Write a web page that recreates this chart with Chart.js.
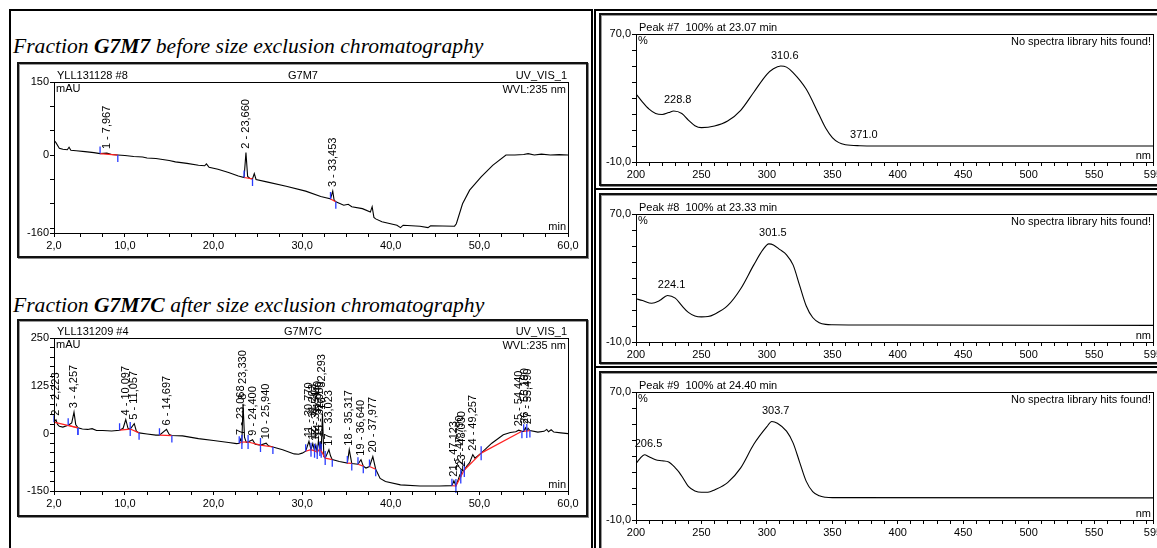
<!DOCTYPE html>
<html>
<head>
<meta charset="utf-8">
<script src="https://cdn.jsdelivr.net/npm/chart.js@4/dist/chart.umd.min.js"></script>
<style>
  body { margin:0; width:1157px; height:548px; overflow:hidden; background:#fff; position:relative;
         font-family:"Liberation Sans", Arial, sans-serif; }
  .frame { position:absolute; border:2px solid #000; box-sizing:border-box; }
  .box { position:absolute; border:2px solid #111; box-sizing:border-box;
         box-shadow: inset 1px 1px 0 #999, 1px 1px 0 #888; }
  .title { position:absolute; left:13px; font-family:"Liberation Serif","Times New Roman",serif;
           font-style:italic; font-size:21.6px; white-space:nowrap; color:#000; }
  canvas { position:absolute; }
</style>
</head>
<body>
<div class="frame" style="left:9px;top:9px;width:584px;height:560px"></div>
<div class="frame" style="left:594px;top:9px;width:600px;height:181px"></div>
<div class="frame" style="left:594px;top:188px;width:600px;height:180px"></div>
<div class="frame" style="left:594px;top:366px;width:600px;height:200px"></div>

<div class="title" style="top:34px">Fraction <b>G7M7</b> before size exclusion chromatography</div>
<div class="title" style="top:293px">Fraction <b>G7M7C</b> after size exclusion chromatography</div>

<div class="box" style="left:17px;top:62px;width:571px;height:196px"></div>
<canvas id="chrom1" width="567" height="192" style="left:19px;top:64px"></canvas>
<div class="box" style="left:17px;top:319px;width:571px;height:198px"></div>
<canvas id="chrom2" width="567" height="194" style="left:19px;top:321px"></canvas>

<div class="box" style="left:599px;top:13px;width:600px;height:173px"></div>
<canvas id="spec1" width="590" height="169" style="left:601px;top:15px"></canvas>
<div class="box" style="left:599px;top:193px;width:600px;height:171px"></div>
<canvas id="spec2" width="590" height="169" style="left:601px;top:195px"></canvas>
<div class="box" style="left:599px;top:371px;width:600px;height:190px"></div>
<canvas id="spec3" width="590" height="169" style="left:601px;top:373px"></canvas>

<script>
// ---- chromatogram G7M7 (min, mAU) ----
const chrom1Time = [2.0, 2.2, 2.6, 3.0, 3.5, 3.7, 3.9, 4.5, 5.5, 6.5, 7.2, 7.967, 8.5, 9.2, 10.0, 11.0, 12.0, 12.5,
  13.5, 15.0, 15.7, 17.0, 18.3, 19.0, 19.2, 19.5, 20.5, 21.7, 22.8, 23.45, 23.66, 23.85, 24.1, 24.4, 24.6, 24.8,
  26.0, 28.2, 30.4, 32.1, 32.8, 33.2, 33.453, 33.6, 33.8, 34.7, 35.2, 35.6, 36.8, 37.7, 37.9, 38.1, 38.3, 39.0,
  40.7, 41.1, 41.4, 43.3, 44.2, 44.5, 47.2, 47.4, 48.1, 48.9, 50.2, 51.5, 53.0, 54.0, 55.0, 55.5, 56.2, 57.0,
  58.0, 59.0, 60.0];
const chrom1Signal = [30, 26, 14, 12, 11, 16, 10, 9, 7, 5, 3, 4, 1, 0, -1, -3, -4, -6,
  -7, -11, -14, -17, -21, -22, -18, -25, -29, -36, -43, -46, 5, -44, -48, -49, -38, -50,
  -55, -64, -74, -85, -88, -90, -74, -92, -96, -103, -101, -106, -110, -117, -106, -128, -131, -137,
  -144, -149, -144, -146, -149, -145, -146, -141, -100, -72, -45, -21, 0, 0, 1, 3, 0, 2,
  0, 1, 0];
// peak no., retention time, start, end
const chrom1Peaks = [[1, 7.967, 7.2, 9.2], [2, 23.660, 23.45, 24.4], [3, 33.453, 33.2, 33.8]];

// ---- chromatogram G7M7C (min, mAU) ----
const chrom2Time = [2.0, 2.223, 2.4, 2.6, 3.0, 3.6, 4.0, 4.257, 4.45, 4.7, 5.2, 5.8, 6.3, 6.8, 7.5, 8.5, 9.4, 9.8,
  10.097, 10.35, 10.6, 11.057, 11.3, 11.6, 12.5, 13.5, 13.9, 14.697, 15.0, 15.3, 16.5, 18.3, 20.0, 21.7, 22.6,
  22.9, 23.068, 23.2, 23.33, 23.5, 23.7, 23.9, 24.4, 24.7, 25.3, 25.94, 26.2, 26.7, 27.8, 29.1, 29.6, 30.0,
  30.4, 30.77, 31.0, 31.203, 31.4, 31.547, 31.7, 31.84, 32.0, 32.06, 32.15, 32.293, 32.45, 32.6, 33.023, 33.2,
  33.4, 34.2, 35.1, 35.317, 35.6, 36.3, 36.64, 36.9, 37.2, 37.6, 37.977, 38.3, 38.8, 39.4, 41.1, 43.3, 45.5,
  46.9, 47.123, 47.35, 47.6, 47.79, 47.9, 48.03, 48.3, 48.6, 48.9, 49.257, 49.5, 50.2, 51.4, 52.7, 53.5,
  54.1, 54.44, 54.8, 55.0, 55.19, 55.35, 55.49, 55.7, 56.6, 57.3, 57.6, 57.8, 58.1, 58.4, 59.2, 60.0];
const chrom2Signal = [30, 36, 24, 19, 17, 22, 28, 56, 24, 15, 12, 11, 13, 8, 8, 7, 9, 14,
  37, 14, 12, 26, 6, 2, -1, -4, -4, 11, -2, -5, -6, -13, -18, -23, -26,
  -25, -14, -22, 78, -10, -23, -22, -16, -28, -30, -25, -32, -35, -42, -53, -54, -51,
  -46, -20, -42, -26, -45, -30, -48, -18, -40, -20, -45, 52, -60, -64, -42, -58,
  -68, -73, -77, -42, -78, -80, -68, -85, -90, -86, -60, -93, -117, -125, -134, -137, -137,
  -136, -123, -137, -121, -108, -112, -97, -95, -84, -76, -55, -64, -51, -25, -3, 3,
  5, 9, 6, 6, 15, 7, 14, 8, 4, 6, 11, 5, 10, 4, 2, 0];
const chrom2Peaks = [[2, 2.223, 2.0, 4.7], [3, 4.257, 3.6, 4.7], [4, 10.097, 9.4, 10.6], [5, 11.057, 10.6, 11.6],
  [6, 14.697, 13.9, 15.3], [7, 23.068, 22.9, 23.2], [8, 23.330, 23.2, 23.9], [9, 24.400, 23.9, 25.3],
  [10, 25.940, 25.3, 26.7], [11, 30.770, 30.4, 31.0], [12, 31.203, 31.0, 31.4], [13, 31.547, 31.4, 31.7],
  [14, 31.840, 31.7, 32.0], [15, 32.060, 32.0, 32.15], [16, 32.293, 32.15, 32.6], [17, 33.023, 32.6, 33.4],
  [18, 35.317, 35.1, 35.6], [19, 36.640, 36.3, 36.9], [20, 37.977, 37.6, 38.3], [21, 47.123, 46.9, 47.35],
  [22, 47.790, 47.35, 47.9], [23, 48.030, 47.9, 48.3], [24, 49.257, 48.3, 50.2], [25, 54.440, 50.2, 54.8],
  [26, 55.190, 55.0, 55.35], [27, 55.490, 55.35, 55.7]];

// ---- UV spectra (nm, %) ----
const spec1Wl = [200, 205, 210, 215, 220, 225, 228.8, 235, 240, 245, 250, 260, 270, 280, 290, 300, 305, 310.6,
  315, 320, 330, 340, 345, 350, 355, 360, 371, 400, 595];
const spec1Abs = [32.6, 27.4, 23, 20.3, 19.7, 20.9, 21.9, 20.3, 16.2, 12.7, 11.5, 12.5, 15.6, 22.3, 33.6, 44.8,
  48.3, 50, 49.3, 45.9, 35.6, 19.3, 11.1, 5.3, 2.1, 0.8, 0.2, 0, 0];
const spec1Marks = [228.8, 310.6, 371.0];

const spec2Wl = [200, 205, 212, 218, 224.1, 230, 235, 240, 245, 250, 255, 260, 270, 280, 290, 297, 301.5, 305,
  310, 315, 320, 325, 330, 335, 340, 345, 350, 400, 595];
const spec2Abs = [17, 15.9, 14.2, 15.9, 19.1, 17.4, 12.7, 8.5, 6.3, 5.7, 5.9, 7.4, 12.7, 23.3, 38.2, 47.7, 51.3,
  50.7, 47.7, 44.5, 38.2, 25.4, 12.7, 5.3, 2.1, 1, 0.8, 0.6, 0.4];
const spec2Marks = [224.1, 301.5];

const spec3Wl = [200, 203, 206.5, 210, 215, 220, 225, 230, 233, 236, 240, 245, 250, 255, 260, 270, 280, 290, 300,
  303.7, 308, 315, 320, 325, 330, 335, 340, 345, 350, 595];
const spec3Abs = [25.3, 28.4, 30.8, 29.5, 27.7, 27, 26.2, 22.6, 19.8, 16.1, 11, 8.2, 7.3, 7.3, 8.8, 13.4, 22.6,
  37.3, 48.3, 51.6, 50.5, 45.5, 38.2, 26.2, 14.3, 7.8, 5.1, 4.2, 4, 3.8];
const spec3Marks = [206.5, 303.7];

const chromXLabels = [2, 10, 20, 30, 40, 50, 60];
const specXLabels = [200, 250, 300, 350, 400, 450, 500, 550, 595];

const FONT = '"Liberation Sans", Arial, sans-serif';
const comma = v => v.toFixed(1).replace('.', ',');

function valueAt(xs, ys, x) {
  for (let i = 1; i < xs.length; i++) {
    if (x <= xs[i]) {
      const f = (x - xs[i - 1]) / (xs[i] - xs[i - 1]);
      return ys[i - 1] + f * (ys[i] - ys[i - 1]);
    }
  }
  return ys[ys.length - 1];
}

function fixedTicks(list) {
  return scale => { scale.ticks = list.map(v => ({ value: v })); };
}

// plot frame + header/corner texts
function framePlugin(txt) {
  return {
    id: 'frame',
    afterDraw(chart) {
      const { ctx, chartArea: a } = chart;
      ctx.save();
      ctx.strokeStyle = '#000';
      ctx.lineWidth = 1;
      ctx.strokeRect(a.left + 0.5, a.top + 0.5, a.right - a.left, a.bottom - a.top);
      ctx.fillStyle = '#000';
      ctx.font = '11px ' + FONT;
      ctx.textBaseline = 'bottom';
      ctx.textAlign = 'left';
      ctx.fillText(txt.left, a.left + 3, a.top - 1);
      if (txt.center) { ctx.textAlign = 'center'; ctx.fillText(txt.center, (a.left + a.right) / 2 - 8, a.top - 1); }
      if (txt.right) { ctx.textAlign = 'right'; ctx.fillText(txt.right, a.right - 1, a.top - 1); }
      ctx.textBaseline = 'top';
      ctx.textAlign = 'left';
      ctx.fillText(txt.unit, a.left + 2, a.top + 1);
      ctx.textAlign = 'right';
      ctx.fillText(txt.info, a.right - 2, a.top + 2);
      ctx.textBaseline = 'bottom';
      ctx.fillText(txt.axis, a.right - 2, a.bottom - 1);
      ctx.restore();
    }
  };
}

// integration marks: red baseline, blue start/end ticks, rotated peak labels
function peakPlugin(times, signal, peaks) {
  return {
    id: 'peaks',
    afterDatasetsDraw(chart) {
      const { ctx } = chart;
      const xs = chart.scales.x, ys = chart.scales.y;
      ctx.save();
      peaks.forEach(([n, rt, t0, t1]) => {
        const x0 = xs.getPixelForValue(t0), x1 = xs.getPixelForValue(t1);
        const y0 = ys.getPixelForValue(valueAt(times, signal, t0));
        const y1 = ys.getPixelForValue(valueAt(times, signal, t1));
        ctx.strokeStyle = '#ff2020';
        ctx.lineWidth = 1.2;
        ctx.beginPath(); ctx.moveTo(x0, y0); ctx.lineTo(x1, y1); ctx.stroke();
        ctx.strokeStyle = '#2a3cff';
        ctx.lineWidth = 1.3;
        ctx.beginPath();
        ctx.moveTo(x0, y0); ctx.lineTo(x0, y0 - 7);
        ctx.moveTo(x1, y1); ctx.lineTo(x1, y1 + 7);
        ctx.stroke();
      });
      ctx.fillStyle = '#000';
      ctx.font = '11px ' + FONT;
      ctx.textAlign = 'left';
      ctx.textBaseline = 'middle';
      peaks.forEach(([n, rt]) => {
        const x = xs.getPixelForValue(rt);
        const y = ys.getPixelForValue(valueAt(times, signal, rt));
        ctx.save();
        ctx.translate(x, y - 4);
        ctx.rotate(-Math.PI / 2);
        ctx.fillText(n + ' - ' + rt.toFixed(3).replace('.', ','), 0, 0);
        ctx.restore();
      });
      ctx.restore();
    }
  };
}

// wavelength labels over spectrum maxima
function markPlugin(wl, abs, marks) {
  return {
    id: 'marks',
    afterDatasetsDraw(chart) {
      const { ctx } = chart;
      ctx.save();
      ctx.fillStyle = '#000';
      ctx.font = '11px ' + FONT;
      ctx.textAlign = 'center';
      ctx.textBaseline = 'bottom';
      marks.forEach(m => {
        const x = chart.scales.x.getPixelForValue(m);
        const y = chart.scales.y.getPixelForValue(valueAt(wl, abs, m));
        ctx.fillText(m.toFixed(1), x + 4, y - 5);
      });
      ctx.restore();
    }
  };
}

function axisCommon(extra) {
  return Object.assign({
    type: 'linear',
    border: { display: true, color: '#000', width: 1 },
    grid: { drawOnChartArea: false, drawTicks: true, tickLength: 4, color: '#000', lineWidth: 1 },
  }, extra);
}

function chromChart(id, times, signal, peaks, yMin, yMax, yTicks, yLabels, area, txt) {
  const xTicks = [2];
  for (let t = 5; t <= 60; t += 2.5) xTicks.push(t);
  new Chart(document.getElementById(id), {
    type: 'line',
    data: { datasets: [{ data: times.map((t, i) => ({ x: t, y: signal[i] })),
      borderColor: '#000', borderWidth: 1.1, pointRadius: 0, tension: 0 }] },
    options: {
      responsive: false, animation: false, events: [],
      layout: { padding: { top: area.top, right: area.right, left: 0, bottom: 0 } },
      plugins: { legend: { display: false }, tooltip: { enabled: false } },
      scales: {
        x: axisCommon({ min: 2, max: 60,
          afterBuildTicks: fixedTicks(xTicks),
          afterFit: s => { s.height = area.xh; },
          ticks: { autoSkip: false, maxRotation: 0, padding: 2, color: '#000', font: { family: FONT, size: 11 },
            callback: v => chromXLabels.includes(v) ? comma(v) : '' } }),
        y: axisCommon({ min: yMin, max: yMax,
          afterBuildTicks: fixedTicks(yTicks),
          afterFit: s => { s.width = area.left; },
          ticks: { autoSkip: false, padding: 1, color: '#000', font: { family: FONT, size: 11 },
            callback: v => yLabels.includes(v) ? String(v) : '' } })
      }
    },
    plugins: [framePlugin(txt), peakPlugin(times, signal, peaks)]
  });
}

function specChart(id, wl, abs, marks, title) {
  const xTicks = [];
  for (let w = 200; w <= 590; w += 10) xTicks.push(w);
  xTicks.push(595);
  const yTicks = [-10, 0, 10, 20, 30, 40, 50, 60, 70];
  new Chart(document.getElementById(id), {
    type: 'line',
    data: { datasets: [{ data: wl.map((w, i) => ({ x: w, y: abs[i] })),
      borderColor: '#000', borderWidth: 1.1, pointRadius: 0, cubicInterpolationMode: 'monotone' }] },
    options: {
      responsive: false, animation: false, events: [],
      layout: { padding: { top: 19, right: 38, left: 0, bottom: 0 } },
      plugins: { legend: { display: false }, tooltip: { enabled: false } },
      scales: {
        x: axisCommon({ min: 200, max: 595,
          afterBuildTicks: fixedTicks(xTicks),
          afterFit: s => { s.height = 22; },
          ticks: { autoSkip: false, maxRotation: 0, padding: 2, color: '#000', font: { family: FONT, size: 11 },
            callback: v => specXLabels.includes(v) ? String(v) : '' } }),
        y: axisCommon({ min: -10, max: 70,
          afterBuildTicks: fixedTicks(yTicks),
          afterFit: s => { s.width = 35; },
          ticks: { autoSkip: false, padding: 1, color: '#000', font: { family: FONT, size: 11 },
            callback: v => (v === 70 || v === -10) ? comma(v) : '' } })
      }
    },
    plugins: [framePlugin({ left: title, unit: '%', info: 'No spectra library hits found!', axis: 'nm' }),
      markPlugin(wl, abs, marks)]
  });
}

const ticks1 = [-160, -150, -100, -50, 0, 50, 100, 150];
const ticks2 = [];
for (let v = -150; v <= 250; v += 25) ticks2.push(v);

chromChart('chrom1', chrom1Time, chrom1Signal, chrom1Peaks, -160, 150, ticks1, [150, 0, -160],
  { left: 35, top: 18, right: 18, xh: 23 },
  { left: 'YLL131128 #8', center: 'G7M7', right: 'UV_VIS_1', unit: 'mAU', info: 'WVL:235 nm', axis: 'min' });
chromChart('chrom2', chrom2Time, chrom2Signal, chrom2Peaks, -150, 250, ticks2, [250, 125, 0, -150],
  { left: 35, top: 17, right: 18, xh: 24 },
  { left: 'YLL131209 #4', center: 'G7M7C', right: 'UV_VIS_1', unit: 'mAU', info: 'WVL:235 nm', axis: 'min' });

specChart('spec1', spec1Wl, spec1Abs, spec1Marks, 'Peak #7  100% at 23.07 min');
specChart('spec2', spec2Wl, spec2Abs, spec2Marks, 'Peak #8  100% at 23.33 min');
specChart('spec3', spec3Wl, spec3Abs, spec3Marks, 'Peak #9  100% at 24.40 min');
</script>
</body>
</html>
